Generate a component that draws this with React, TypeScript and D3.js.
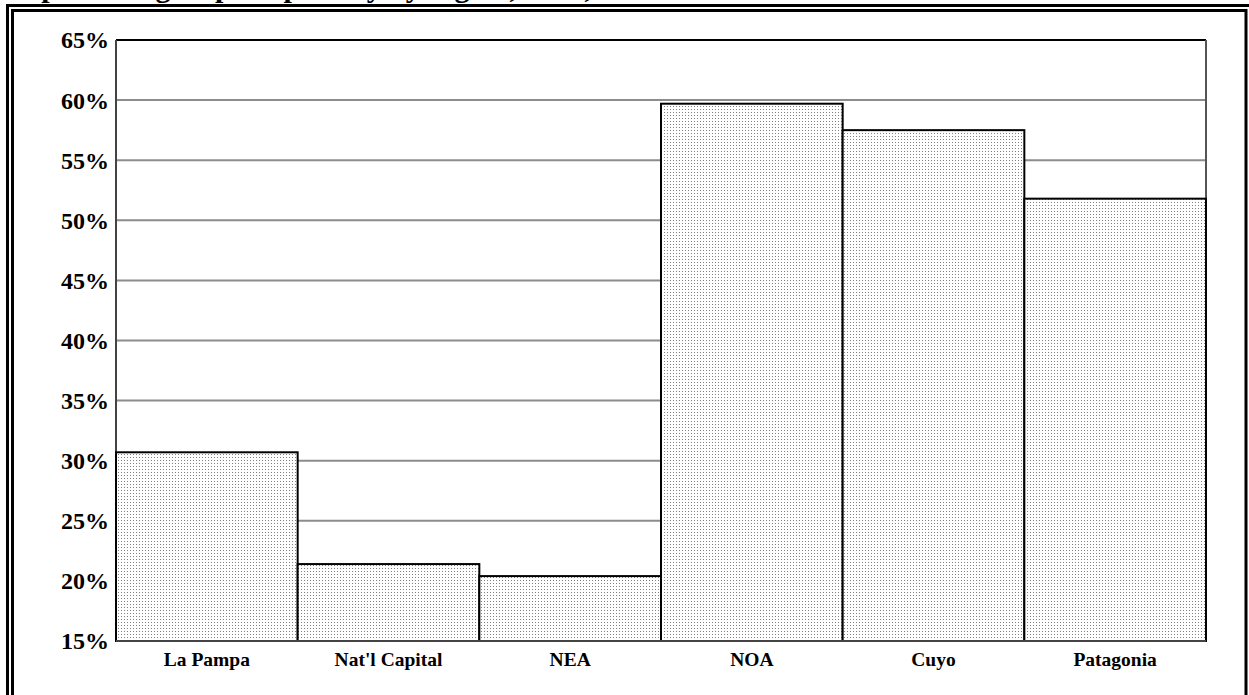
import React from "react";
import * as d3 from "d3";

const categories = ["La Pampa", "Nat'l Capital", "NEA", "NOA", "Cuyo", "Patagonia"];
const values = [30.7, 21.4, 20.4, 59.7, 57.5, 51.8];
const yTicks = [15, 20, 25, 30, 35, 40, 45, 50, 55, 60, 65];
const titleText = "Population groups in poverty by region, 1980, 1991";

const W = 1249;
const H = 695;
const M = { left: 116, right: 1206, top: 40, bottom: 641 };

export default function App() {
  const x = d3.scaleBand<string>().domain(categories).range([M.left, M.right]).padding(0);
  const y = d3.scaleLinear().domain([15, 65]).range([M.bottom, M.top]);
  const font = "'Liberation Serif', 'Times New Roman', serif";

  return (
    <svg
      width={W}
      height={H}
      style={{ position: "absolute", left: 0, top: 0, display: "block", background: "#fff" }}
    >
      <defs>
        <pattern id="dots" width={3} height={3} patternUnits="userSpaceOnUse">
          <rect width={3} height={3} fill="#ffffff" />
          <rect x={1} y={1} width={1} height={1} fill="#808080" />
        </pattern>
      </defs>

      {/* cropped title */}
      <text x={8} y={-3} fontFamily={font} fontWeight="bold" fontSize={30} fill="#000">
        {titleText}
      </text>

      {/* double frame */}
      <rect x={7.5} y={5.5} width={1260} height={720} fill="none" stroke="#000" strokeWidth={3} />
      <rect x={12.5} y={10.5} width={1233.5} height={720} fill="none" stroke="#000" strokeWidth={3} />

      {/* gridlines */}
      {yTicks.slice(1, -1).map((t) => (
        <line key={t} x1={M.left} x2={M.right} y1={y(t)} y2={y(t)} stroke="#8c8c8c" strokeWidth={2} />
      ))}

      {/* plot border */}
      <line x1={M.left} x2={M.right} y1={y(65)} y2={y(65)} stroke="#000" strokeWidth={2} />
      <line x1={M.right} x2={M.right} y1={y(65)} y2={M.bottom} stroke="#555" strokeWidth={2} />
      <line x1={M.left} x2={M.left} y1={y(65)} y2={M.bottom} stroke="#444" strokeWidth={2} />

      {/* bars */}
      {categories.map((c, i) => (
        <rect
          key={c}
          x={x(c)!}
          y={y(values[i])}
          width={x.bandwidth()}
          height={M.bottom - y(values[i])}
          fill="url(#dots)"
          stroke="#000"
          strokeWidth={2}
        />
      ))}

      <line x1={M.left} x2={M.right} y1={M.bottom} y2={M.bottom} stroke="#444" strokeWidth={2} />

      {/* y labels */}
      {yTicks.map((t) => (
        <text
          key={t}
          x={109}
          y={y(t)}
          dy="0.35em"
          textAnchor="end"
          fontFamily={font}
          fontWeight="bold"
          fontSize={24}
          fill="#000"
        >
          {t}%
        </text>
      ))}

      {/* x labels */}
      {categories.map((c) => (
        <text
          key={c}
          x={x(c)! + x.bandwidth() / 2}
          y={666}
          textAnchor="middle"
          fontFamily={font}
          fontWeight="bold"
          fontSize={19.5}
          fill="#000"
        >
          {c}
        </text>
      ))}
    </svg>
  );
}
